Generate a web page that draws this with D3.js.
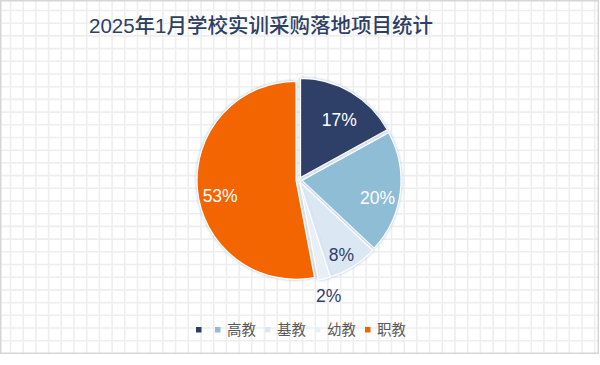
<!DOCTYPE html>
<html>
<head>
<meta charset="utf-8">
<script src="https://cdn.jsdelivr.net/npm/d3@7"></script>
<style>
  body { margin: 0; background: #fff; }
  svg { display: block; }
</style>
</head>
<body>
<div id="chart"></div>
<script>
// data
var categories = ["", "高教", "基教", "幼教", "职教"]
var values = [17, 20, 8, 2, 53]
var colors = ["#2f3f68", "#8fbdd6", "#dbe8f4", "#e9eff7", "#f26500"]
var labelColors = ["#fff", "#fff", "#2f3f68", "#2f3f68", "#fff"]
var title = "2025年1月学校实训采购落地项目统计"

var W = 600, H = 365
var svg = d3.select("#chart").append("svg")
  .attr("width", W)
  .attr("height", H)

// background grid + frame
var grid = svg.append("g")
var step = 12.7
grid.selectAll(".vx")
  .data(d3.range(10.5, 598, step))
  .enter().append("line")
  .attr("x1", d => d).attr("x2", d => d)
  .attr("y1", 0).attr("y2", 353)
  .attr("stroke", "#eeeeee").attr("stroke-width", 1.6)
grid.selectAll(".hy")
  .data(d3.range(10.5, 353, step))
  .enter().append("line")
  .attr("y1", d => d).attr("y2", d => d)
  .attr("x1", 0).attr("x2", 598)
  .attr("stroke", "#eeeeee").attr("stroke-width", 1.6)
svg.append("rect")
  .attr("x", 0.75).attr("y", 0.75)
  .attr("width", 597.5).attr("height", 352.5)
  .attr("fill", "none")
  .attr("stroke", "#d6d6d6").attr("stroke-width", 1.5)

svg.append("text")
  .attr("x", 261)
  .attr("y", 33)
  .attr("text-anchor", "middle")
  .attr("font-family", "'Liberation Sans', 'Noto Sans CJK SC', sans-serif")
  .attr("font-size", 20.5)
  .attr("font-weight", 500)
  .attr("fill", "#2e3f66")
  .text(title)

// soft glow around slices
var defs = svg.append("defs")
var f = defs.append("filter").attr("id", "glow")
  .attr("x", "-20%").attr("y", "-20%").attr("width", "140%").attr("height", "140%")
f.append("feDropShadow")
  .attr("dx", 0).attr("dy", 0)
  .attr("stdDeviation", 1.6)
  .attr("flood-color", "#9fbbd6")
  .attr("flood-opacity", 0.9)

var cx = 299, cy = 180, r = 99, explode = 3

var pie = d3.pie().sort(null).value(d => d)
var arcs = pie(values)
var arc = d3.arc().innerRadius(0).outerRadius(r)
var labelArc = d3.arc().innerRadius(r * 0.8).outerRadius(r * 0.8)
var outerArc = d3.arc().innerRadius(r * 1.2).outerRadius(r * 1.2)

var g = svg.append("g").attr("transform", "translate(" + cx + "," + cy + ")")

g.selectAll(".slice")
  .data(arcs)
  .enter().append("path")
  .attr("class", "slice")
  .attr("transform", d => {
    var a = (d.startAngle + d.endAngle) / 2
    return "translate(" + (Math.sin(a) * explode) + "," + (-Math.cos(a) * explode) + ")"
  })
  .attr("d", arc)
  .attr("fill", (d, i) => colors[i])
  .attr("stroke", "#fff")
  .attr("stroke-width", 1.2)
  .attr("filter", "url(#glow)")

// inside labels sit a little below the centroid, like the original
g.selectAll(".lbl")
  .data(arcs)
  .enter().append("text")
  .attr("class", "lbl")
  .attr("transform", (d, i) => {
    var outside = values[i] < 5
    var c = outside ? outerArc.centroid(d) : labelArc.centroid(d)
    return "translate(" + c[0] + "," + (c[1] + (outside ? 1 : 8)) + ")"
  })
  .attr("dy", "0.35em")
  .attr("text-anchor", "middle")
  .attr("font-family", "'Liberation Sans', Arial, sans-serif")
  .attr("font-size", 17.5)
  .attr("fill", (d, i) => labelColors[i])
  .text(d => d.data + "%")

// legend
var legend = svg.append("g").attr("transform", "translate(196,330)")
var lx = 0
categories.forEach((c, i) => {
  var item = legend.append("g").attr("transform", "translate(" + lx + ",0)")
  item.append("rect")
    .attr("x", 0).attr("y", -3)
    .attr("width", 5.5).attr("height", 5.5)
    .attr("fill", colors[i])
  var t = item.append("text")
    .attr("x", 12)
    .attr("dy", "0.35em")
    .attr("font-family", "'Noto Sans CJK SC', sans-serif")
    .attr("font-size", 14.5)
    .attr("fill", "#595959")
    .text(c)
  var w = c ? t.node().getComputedTextLength() : 0
  lx += 12 + w + (c ? 9 : 7)
})
</script>
</body>
</html>
